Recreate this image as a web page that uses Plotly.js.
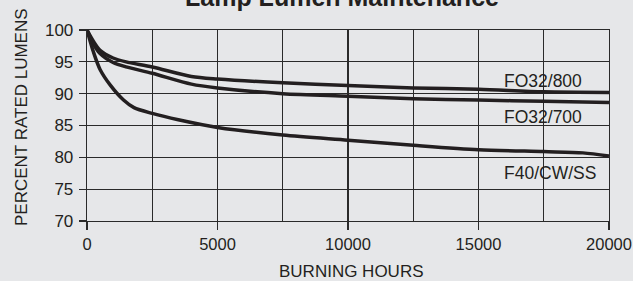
<!DOCTYPE html>
<html>
<head>
<meta charset="utf-8">
<script src="https://cdn.plot.ly/plotly-3.0.1.min.js"></script>
<style>html,body{margin:0;padding:0;background:#e6e7e9;}#chart{width:633px;height:281px;}</style>
</head>
<body>
<div id="chart"></div>
<script>
// Burning hours (x) for each curve
const hours800 = [0, 250, 500, 1000, 1500, 2500, 4000, 5000, 7500, 10000, 12500, 15000, 17500, 20000];
const fo32_800 = [100, 98.2, 96.8, 95.6, 95.0, 94.2, 92.7, 92.3, 91.7, 91.3, 90.9, 90.7, 90.3, 90.2];

const hours700 = [0, 250, 500, 1000, 1500, 2500, 4000, 5000, 7500, 10000, 12500, 15000, 17500, 20000];
const fo32_700 = [100, 97.8, 96.3, 94.9, 94.2, 93.2, 91.5, 90.9, 90.0, 89.6, 89.2, 89.0, 88.8, 88.6];

const hoursF40 = [0, 250, 500, 900, 1400, 1800, 2500, 3500, 5000, 7500, 10000, 12500, 15000, 17500, 19000, 20000];
const f40_cw_ss = [100, 96.5, 93.8, 91.3, 89.0, 87.8, 86.9, 85.9, 84.7, 83.5, 82.7, 81.9, 81.2, 80.9, 80.7, 80.2];

const xTicks = [0, 5000, 10000, 15000, 20000];
const yTicks = [70, 75, 80, 85, 90, 95, 100];
const seriesNames = ["FO32/800", "FO32/700", "F40/CW/SS"];

const ink = "#231f20";
const bg = "#e6e7e9";
const fontFam = "Arial, 'Liberation Sans', Helvetica, sans-serif";

const lineStyle = {color: ink, width: 3.5, shape: "spline", smoothing: 0.8};
const traces = [
  {x: hours800, y: fo32_800, name: seriesNames[0], mode: "lines", line: lineStyle},
  {x: hours700, y: fo32_700, name: seriesNames[1], mode: "lines", line: lineStyle},
  {x: hoursF40, y: f40_cw_ss, name: seriesNames[2], mode: "lines", line: lineStyle}
];

const L = 87, R = 24, T = 30, B = 60;
const PW = 633 - L - R, PH = 281 - T - B;
const gridCol = "#2a2a2a";
const layout = {
  width: 633, height: 281,
  margin: {l: L, r: R, t: T, b: B},
  paper_bgcolor: bg, plot_bgcolor: bg,
  showlegend: false,
  font: {family: fontFam, color: ink, size: 17},
  xaxis: {
    range: [0, 20000], tickvals: xTicks, ticktext: xTicks.map(String),
    ticks: "outside", ticklen: 8, tickwidth: 1.3, tickcolor: gridCol,
    showgrid: true, gridcolor: gridCol, gridwidth: 1.3,
    minor: {dtick: 2500, tick0: 0, showgrid: true, gridcolor: gridCol, gridwidth: 1.3, ticks: ""},
    showline: true, linecolor: gridCol, linewidth: 1.3, mirror: true,
    zeroline: false, fixedrange: true, ticklabeloverflow: "allow",
    tickfont: {size: 16.5, color: ink, family: fontFam}
  },
  yaxis: {
    range: [70, 100], tickvals: yTicks, ticktext: yTicks.map(String),
    ticks: "outside", ticklen: 7, tickwidth: 1.3, tickcolor: gridCol,
    showgrid: true, gridcolor: gridCol, gridwidth: 1.3,
    showline: true, linecolor: gridCol, linewidth: 1.3, mirror: true,
    zeroline: false, fixedrange: true, ticklabelstandoff: 2, ticklabeloverflow: "allow",
    tickfont: {size: 17, color: ink, family: fontFam}
  },
  annotations: [
    {text: "<b>Lamp Lumen Maintenance</b>", xref: "paper", yref: "paper", x: (342-L)/PW, y: (221+2.75)/PH,
     xanchor: "center", yanchor: "middle", showarrow: false, font: {size: 25, color: ink, family: fontFam}},
    {text: "PERCENT RATED LUMENS", xref: "paper", yref: "paper", x: (21-L)/PW, y: (221-117)/PH,
     xanchor: "center", yanchor: "middle", textangle: -90, showarrow: false, font: {size: 17, color: ink, family: fontFam}},
    {text: "BURNING HOURS", xref: "paper", yref: "paper", x: (351-L)/PW, y: (221-271)/PH,
     xanchor: "center", yanchor: "middle", showarrow: false, font: {size: 17, color: ink, family: fontFam}},
    {text: seriesNames[0], xref: "x", yref: "y", x: 15900, y: 92.0, xanchor: "left", yanchor: "middle",
     showarrow: false, font: {size: 17.5, color: ink, family: fontFam}},
    {text: seriesNames[1], xref: "x", yref: "y", x: 15900, y: 86.3, xanchor: "left", yanchor: "middle",
     showarrow: false, font: {size: 17.5, color: ink, family: fontFam}},
    {text: seriesNames[2], xref: "x", yref: "y", x: 15900, y: 77.5, xanchor: "left", yanchor: "middle",
     showarrow: false, font: {size: 17.5, color: ink, family: fontFam}}
  ]
};

Plotly.newPlot("chart", traces, layout, {displayModeBar: false, staticPlot: true});
</script>
</body>
</html>
